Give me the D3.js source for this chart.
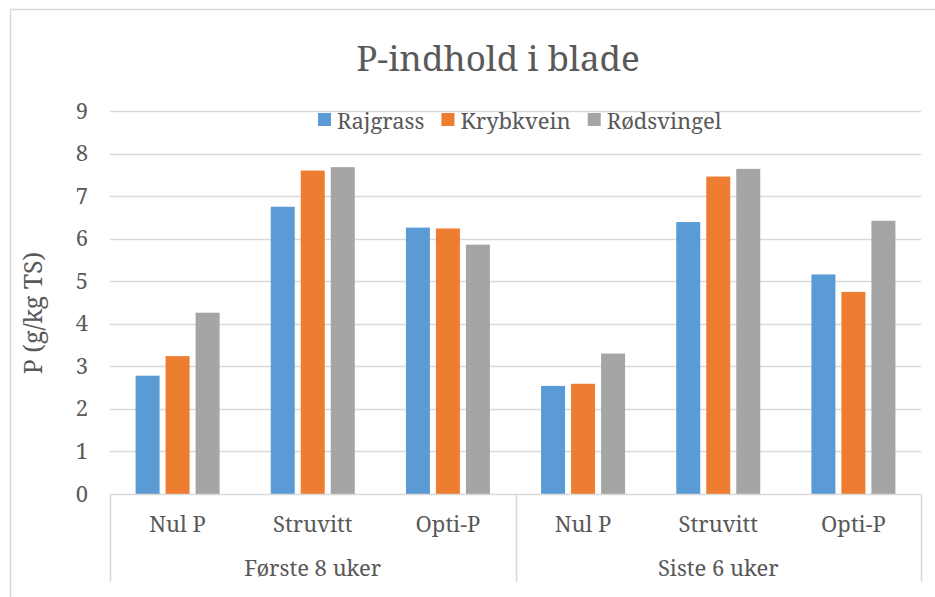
<!DOCTYPE html>
<html>
<head>
<meta charset="utf-8">
<script src="https://cdn.jsdelivr.net/npm/d3@7"></script>
</head>
<body style="margin:0; background:#fff">
<div class="chart"></div>
<script>
// chart data
var groups = ["Første 8 uker", "Siste 6 uker"];
var treatments = ["Nul P", "Struvitt", "Opti-P"];
var seriesNames = ["Rajgrass", "Krybkvein", "Rødsvingel"];
var rajgrass = [2.78, 6.75, 6.26, 2.54, 6.39, 5.16];
var krybkvein = [3.24, 7.60, 6.24, 2.59, 7.46, 4.75];
var rodsvingel = [4.26, 7.68, 5.86, 3.30, 7.64, 6.42];
var yTicks = [0, 1, 2, 3, 4, 5, 6, 7, 8, 9];

var colors = ["#5B9BD5", "#ED7D31", "#A5A5A5"];
var seriesValues = [rajgrass, krybkvein, rodsvingel];
var fontFam = "'Noto Serif', 'Liberation Serif', serif";
var textColor = "#595959";

var svgWidth = 935, svgHeight = 597;
var margin = { top: 111, right: 14, bottom: 103, left: 110 };
var chartWidth = svgWidth - margin.left - margin.right;
var chartHeight = svgHeight - margin.top - margin.bottom;

var svg = d3.select(".chart").append("svg")
  .attr("width", svgWidth)
  .attr("height", svgHeight);

// outer chart border (cropped at right/bottom)
svg.append("rect")
  .attr("x", 10.5).attr("y", 9.5)
  .attr("width", 940).attr("height", 600)
  .attr("fill", "none")
  .attr("stroke", "#D9D9D9")
  .attr("stroke-width", 1.5);

var chartGroup = svg.append("g")
  .attr("transform", `translate(${margin.left}, ${margin.top})`);

// categories: group x treatment
var categories = [];
groups.forEach(function (g) {
  treatments.forEach(function (t) { categories.push(g + "|" + t); });
});

var x0 = d3.scaleBand().domain(categories).range([0, chartWidth]).padding(0);
var innerW = 84;
var x1 = d3.scaleBand().domain(seriesNames)
  .range([(x0.bandwidth() - innerW) / 2, (x0.bandwidth() + innerW) / 2])
  .paddingInner(0.2).paddingOuter(0);

var y = d3.scaleLinear().domain([0, 9]).range([chartHeight, 0]);

// gridlines
chartGroup.append("g")
  .selectAll("line")
  .data(yTicks.filter(d => d > 0))
  .enter().append("line")
  .attr("x1", 0).attr("x2", chartWidth)
  .attr("y1", d => Math.round(y(d)) + 0.5)
  .attr("y2", d => Math.round(y(d)) + 0.5)
  .attr("stroke", "#D9D9D9")
  .attr("stroke-width", 1.5);

// y tick labels
var leftAxis = d3.axisLeft(y).tickValues(yTicks).tickSize(0).tickPadding(22);
var yAxis = chartGroup.append("g").call(leftAxis);
yAxis.select(".domain").remove();
yAxis.selectAll("text")
  .style("font-family", fontFam)
  .style("font-size", "22px")
  .attr("fill", textColor);

// bars
seriesNames.forEach(function (name, si) {
  chartGroup.append("g")
    .selectAll("rect")
    .data(seriesValues[si])
    .enter().append("rect")
    .attr("x", (d, i) => x0(categories[i]) + x1(name))
    .attr("y", d => y(d))
    .attr("width", x1.bandwidth())
    .attr("height", d => chartHeight - y(d))
    .attr("fill", colors[si]);
});

// multi-level category axis lines
var axisG = chartGroup.append("g").attr("transform", `translate(0, ${chartHeight})`);
axisG.append("line")
  .attr("x1", 0).attr("x2", chartWidth)
  .attr("y1", 0.5).attr("y2", 0.5)
  .attr("stroke", "#D9D9D9").attr("stroke-width", 1.5);
var groupEdges = [0, x0(categories[3]), chartWidth];
axisG.selectAll(".sep")
  .data(groupEdges)
  .enter().append("line")
  .attr("class", "sep")
  .attr("x1", d => Math.round(d) + 0.5).attr("x2", d => Math.round(d) + 0.5)
  .attr("y1", 0).attr("y2", 88)
  .attr("stroke", "#D9D9D9").attr("stroke-width", 1.5);

// treatment labels
axisG.selectAll(".cat")
  .data(categories)
  .enter().append("text")
  .attr("class", "cat")
  .attr("x", d => x0(d) + x0.bandwidth() / 2)
  .attr("y", 38)
  .attr("text-anchor", "middle")
  .style("font-family", fontFam)
  .style("font-size", "22px")
  .attr("fill", textColor)
  .text(d => d.split("|")[1]);

// group labels
axisG.selectAll(".grp")
  .data(groups)
  .enter().append("text")
  .attr("class", "grp")
  .attr("x", (d, i) => (x0(categories[i * 3]) + x0(categories[i * 3 + 2]) + x0.bandwidth()) / 2)
  .attr("y", 82)
  .attr("text-anchor", "middle")
  .style("font-family", fontFam)
  .style("font-size", "22px")
  .attr("fill", textColor)
  .text(d => d);

// title
svg.append("text")
  .attr("x", 498)
  .attr("y", 71)
  .attr("text-anchor", "middle")
  .style("font-family", fontFam)
  .style("font-size", "35px")
  .attr("fill", textColor)
  .text("P-indhold i blade");

// y axis label
svg.append("text")
  .attr("transform", "translate(42, 313) rotate(-90)")
  .attr("text-anchor", "middle")
  .style("font-family", fontFam)
  .style("font-size", "25px")
  .attr("fill", textColor)
  .text("P (g/kg TS)");

// legend
var legend = svg.append("g").attr("transform", "translate(318, 113)");
var lx = 0;
seriesNames.forEach(function (name, i) {
  var item = legend.append("g").attr("transform", `translate(${lx}, 0)`);
  item.append("rect")
    .attr("width", 13).attr("height", 13)
    .attr("fill", colors[i]);
  var t = item.append("text")
    .attr("x", 19).attr("y", 16)
    .style("font-family", fontFam)
    .style("font-size", "22px")
    .attr("fill", textColor)
    .text(name);
  lx += 19 + t.node().getComputedTextLength() + 17;
});
</script>
</body>
</html>
